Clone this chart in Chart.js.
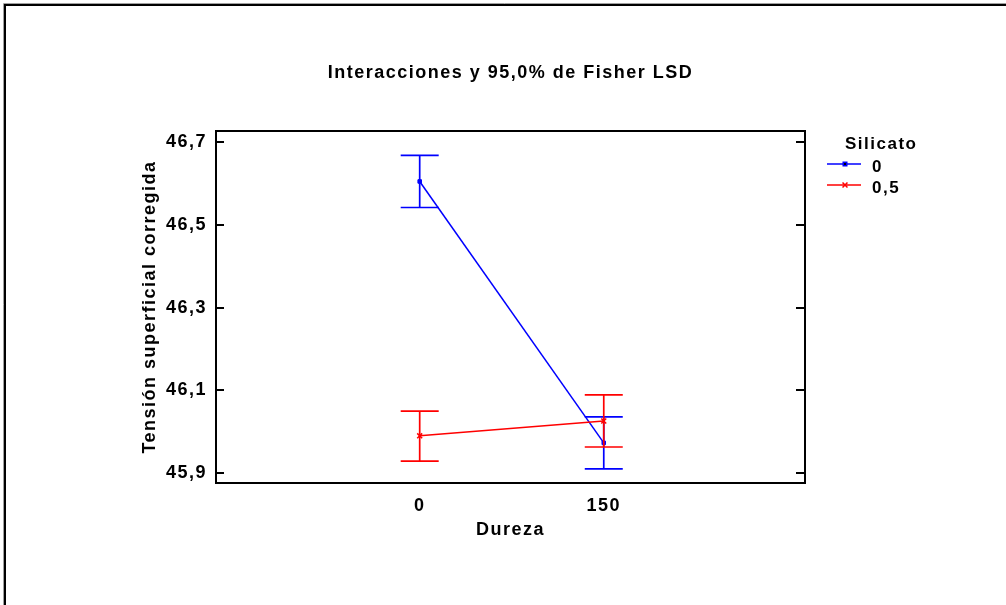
<!DOCTYPE html>
<html>
<head>
<meta charset="utf-8">
<script src="https://cdn.jsdelivr.net/npm/chart.js@4"></script>
<style>
html, body { margin:0; padding:0; background:#fff; }
</style>
</head>
<body>
<canvas id="grafico" width="1006" height="605"></canvas>
<script>
// datos
const durezaCats = [0, 150];
const silicatoLabels = ['0', '0,5'];
const mediaSil0 = [46.605, 45.973];
const mediaSil05 = [45.990, 46.026];
const limInfSil0 = [46.542, 45.910];
const limSupSil0 = [46.668, 46.036];
const limInfSil05 = [45.929, 45.963];
const limSupSil05 = [46.050, 46.089];
const yTicks = [45.9, 46.1, 46.3, 46.5, 46.7];

const fuente = '"Liberation Sans", Arial, sans-serif';
const colores = ['#0000ff', '#ff0000'];
const espaciado = '1.5px';

function puntos(medias) {
	return durezaCats.map(function(x, i) { return {x: x, y: medias[i]}; });
}

const barrasError = {
	id: 'barrasError',
	afterDatasetDraw: function(chart, args) {
		var ds = chart.data.datasets[args.index];
		var ctx = chart.ctx;
		var sx = chart.scales.x, sy = chart.scales.y;
		ctx.save();
		ctx.strokeStyle = ds.borderColor;
		ctx.lineWidth = 1.7;
		for (var i = 0; i < durezaCats.length; i++) {
			var px = sx.getPixelForValue(durezaCats[i]);
			var y1 = sy.getPixelForValue(ds.limInf[i]);
			var y2 = sy.getPixelForValue(ds.limSup[i]);
			ctx.beginPath();
			ctx.moveTo(px, y1); ctx.lineTo(px, y2);
			ctx.moveTo(px - 19, y1); ctx.lineTo(px + 19, y1);
			ctx.moveTo(px - 19, y2); ctx.lineTo(px + 19, y2);
			ctx.stroke();
		}
		ctx.restore();
	}
};

const marco = {
	id: 'marco',
	beforeUpdate: function(chart) {
		chart.ctx.letterSpacing = espaciado;
	},
	beforeDraw: function(chart) {
		var ctx = chart.ctx;
		ctx.letterSpacing = espaciado;
		ctx.save();
		ctx.fillStyle = '#fff';
		ctx.fillRect(0, 0, chart.width, chart.height);
		ctx.strokeStyle = '#a0a0a0';
		ctx.lineWidth = 1;
		ctx.beginPath();
		ctx.moveTo(3.5, chart.height); ctx.lineTo(3.5, 3.5); ctx.lineTo(chart.width, 3.5);
		ctx.stroke();
		ctx.strokeStyle = '#000';
		ctx.lineWidth = 2;
		ctx.beginPath();
		ctx.moveTo(5, chart.height); ctx.lineTo(5, 5); ctx.lineTo(chart.width, 5);
		ctx.stroke();
		ctx.restore();
	},
	afterDraw: function(chart) {
		var ctx = chart.ctx;
		var a = chart.chartArea;
		var sy = chart.scales.y;
		ctx.save();
		ctx.strokeStyle = '#000';
		ctx.lineWidth = 2;
		ctx.strokeRect(a.left, a.top, a.right - a.left, a.bottom - a.top);
		ctx.beginPath();
		yTicks.forEach(function(v) {
			var py = Math.round(sy.getPixelForValue(v));
			ctx.moveTo(a.left, py); ctx.lineTo(a.left + 8, py);
			ctx.moveTo(a.right - 9, py); ctx.lineTo(a.right, py);
		});
		ctx.stroke();

		// leyenda
		ctx.letterSpacing = espaciado;
		ctx.fillStyle = '#000';
		ctx.font = 'bold 17px ' + fuente;
		ctx.textBaseline = 'middle';
		ctx.textAlign = 'left';
		ctx.fillText('Silicato', 845, 144);
		chart.data.datasets.forEach(function(ds, i) {
			var ly = 164 + i * 21;
			ctx.strokeStyle = ds.borderColor;
			ctx.lineWidth = 1.5;
			ctx.beginPath();
			ctx.moveTo(827, ly); ctx.lineTo(861, ly);
			ctx.stroke();
			Chart.helpers.drawPoint(ctx, {pointStyle: ds.pointStyle, radius: ds.pointRadius, borderWidth: 1.5}, 845, ly);
			ctx.fillStyle = '#000';
			ctx.fillText(ds.label, 872, ly + 3);
		});
		ctx.restore();
	}
};

var ctx = document.getElementById('grafico').getContext('2d');
var grafico = new Chart(ctx, {
	type: 'line',
	data: {
		datasets: [{
			label: silicatoLabels[0],
			data: puntos(mediaSil0),
			limInf: limInfSil0,
			limSup: limSupSil0,
			borderColor: colores[0],
			backgroundColor: colores[0],
			borderWidth: 1.5,
			pointStyle: 'rect',
			pointRadius: 2.5,
			pointBorderWidth: 1,
			order: 1
		}, {
			label: silicatoLabels[1],
			data: puntos(mediaSil05),
			limInf: limInfSil05,
			limSup: limSupSil05,
			borderColor: colores[1],
			backgroundColor: colores[1],
			borderWidth: 1.5,
			pointStyle: 'crossRot',
			pointRadius: 3.5,
			pointBorderWidth: 1.5,
			order: 0
		}]
	},
	options: {
		responsive: false,
		animation: false,
		layout: { padding: { left: 0, top: 0, right: 201, bottom: 0 } },
		plugins: {
			legend: { display: false },
			tooltip: { enabled: false },
			title: {
				display: true,
				fullSize: false,
				text: 'Interacciones y 95,0% de Fisher LSD',
				color: '#000',
				font: { family: fuente, size: 18, weight: 'bold' },
				padding: { top: 62.5, bottom: 46.9 }
			}
		},
		scales: {
			x: {
				type: 'linear',
				min: -166,
				max: 314,
				grid: { display: false, drawTicks: false },
				border: { display: false },
				afterBuildTicks: function(s) { s.ticks = durezaCats.map(function(v) { return {value: v}; }); },
				ticks: {
					color: '#000',
					font: { family: fuente, size: 18, weight: 'bold' },
					padding: 12,
					autoSkip: false,
					maxRotation: 0,
					callback: function(v) { return String(v); }
				},
				title: {
					display: true,
					text: 'Dureza',
					color: '#000',
					font: { family: fuente, size: 18, weight: 'bold' },
					padding: { top: 0, bottom: 64 }
				},
				afterFit: function(s) { s.height = 122; }
			},
			y: {
				min: 45.876,
				max: 46.727,
				grid: { display: false, drawTicks: false },
				border: { display: false },
				afterBuildTicks: function(s) { s.ticks = yTicks.map(function(v) { return {value: v}; }); },
				ticks: {
					color: '#000',
					font: { family: fuente, size: 18, weight: 'bold' },
					padding: 9,
					callback: function(v) { return v.toFixed(1).replace('.', ','); }
				},
				title: {
					display: true,
					text: 'Tensión superficial corregida',
					color: '#000',
					font: { family: fuente, size: 18, weight: 'bold' },
					padding: { top: 139, bottom: 0 }
				},
				afterFit: function(s) { s.width = 216; }
			}
		}
	},
	plugins: [barrasError, marco]
});
</script>
</body>
</html>
